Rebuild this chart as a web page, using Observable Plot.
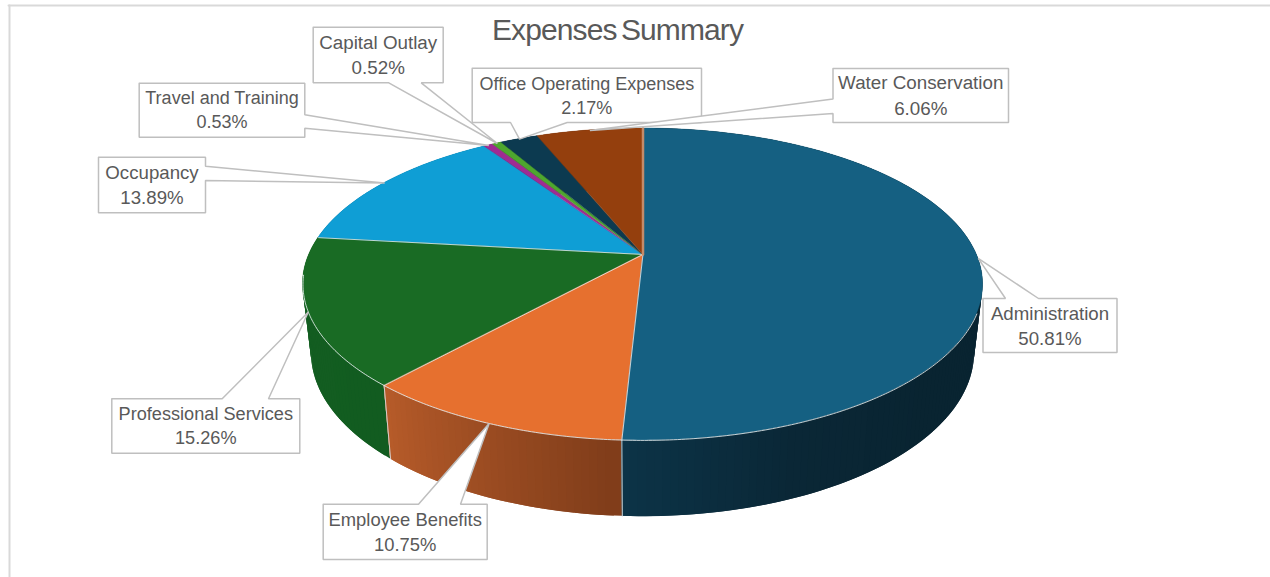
<!DOCTYPE html>
<html>
<head>
<meta charset="utf-8">
<title>Expenses Summary</title>
<script src="https://cdn.jsdelivr.net/npm/d3@7"></script>
<script src="https://cdn.jsdelivr.net/npm/@observablehq/plot@0.6"></script>
<style>
  html, body { margin: 0; padding: 0; background: #fff; }
  svg { display: block; }
  g[font-size="30"] { letter-spacing: -0.9px; word-spacing: -3px; }
</style>
</head>
<body>
<div id="chart"></div>
<script>
// Expense categories, clockwise from twelve o'clock
const categories = ["Administration", "Employee Benefits", "Professional Services", "Occupancy",
  "Travel and Training", "Capital Outlay", "Office Operating Expenses", "Water Conservation"];
const shares = [50.81, 10.75, 15.26, 13.89, 0.53, 0.52, 2.17, 6.06];
const topColors = ["#156082", "#E6702F", "#196B24", "#0F9ED5", "#A02B93", "#4EA72E", "#0C3A50", "#943F0D"];
const labelSizes = [18.67, 18.4, 18.15, 18.67, 18, 18.8, 18, 18.8];

// Wall shading of each slice, first stop at the slice's starting angle
const wallStops = [
  ["#092431", "#092431", "#092431", "#092431", "#092431", "#092431", "#0A2736", "#0C3448"],
  ["#803D1A", "#B85C2A"],
  ["#125C20", "#145F22"],
  ["#0B6F96", "#0B6F96"],
  ["#701E67", "#701E67"],
  ["#367520", "#367520"],
  ["#082837", "#082837"],
  ["#682C09", "#682C09"]
];

// Perspective disc: unit circle mapped onto the screen, plus the lower rim of the wall
const disc = {cx: 642.5, cy: 254, a: 333.7, b: 150.2, k: 0.192};
const wall = {sx: 0.975, sy: 1.05, dy: 67};

const total = d3.sum(shares);
const cumulative = d3.cumsum(shares);
const angle = (s) => (s / total) * 2 * Math.PI;

function rim(theta) {
  const u = Math.sin(theta), v = -Math.cos(theta), d = 1 - disc.k * v;
  return [disc.cx + (disc.a * u) / d, disc.cy + (disc.b * v) / d];
}
function lowerRim(theta) {
  const [x, y] = rim(theta);
  return [disc.cx + (x - disc.cx) * wall.sx, disc.cy + wall.dy + (y - disc.cy) * wall.sy];
}

const slices = categories.map((name, i) => ({
  name, i,
  start: angle(cumulative[i] - shares[i]),
  end: angle(cumulative[i]),
  mid: angle(cumulative[i] - shares[i] / 2),
  fill: topColors[i]
}));

// Top faces: one fan of samples per slice
const faceRows = slices.flatMap((s) => {
  const n = Math.max(2, Math.ceil((s.end - s.start) / 0.01));
  return d3.range(n + 1).map((j) => {
    const [x, y] = rim(s.start + ((s.end - s.start) * j) / n);
    return {slice: s.i, x, y, fill: s.fill};
  });
});

// Walls: short strips that overlap the next one, so no seams show between shades
const wallRows = slices.flatMap((s) => {
  const shade = d3.piecewise(d3.interpolateRgb, wallStops[s.i]);
  const n = Math.max(2, Math.ceil((s.end - s.start) / 0.02));
  const step = (s.end - s.start) / n;
  return d3.range(n).flatMap((j) => {
    const t0 = s.start + step * j;
    const t1 = j < n - 1 ? t0 + step * 2 : t0 + step;
    const color = shade((j + 0.5) / n);
    return [t0, t1].map((t) => {
      const [x1, y1] = rim(t), [x2, y2] = lowerRim(t);
      return {strip: `${s.i}-${String(j).padStart(4, "0")}`, x1, y1, x2, y2, color};
    });
  });
}).reverse();

// Thin highlights along the front rim and between the large slices
const frontRim = d3.range(Math.PI * 0.62, Math.PI * 1.46, 0.01).map((t) => {
  const [x, y] = rim(t);
  return {x, y};
});
const radialEdges = [0, 1, 2].flatMap((i) => {
  const [x, y] = rim(slices[i].end);
  return [{edge: i, x: disc.cx, y: disc.cy}, {edge: i, x, y}];
});
const wallEdges = [0, 1].flatMap((i) => {
  const [x1, y1] = rim(slices[i].end), [x2, y2] = lowerRim(slices[i].end);
  return [{edge: i, x: x1, y: y1}, {edge: i, x: x2, y: y2}];
});
const seam = (() => {
  const [x, y] = rim(0);
  return [{x: disc.cx, y: disc.cy}, {x, y}];
})();

// Callout boxes [left, top, right, bottom] and the side their pointer leaves from
const calloutBoxes = [
  [982.5, 298, 1116.5, 352],
  [322.7, 503.7, 486.7, 559],
  [111.3, 398.3, 299.3, 452.7],
  [98, 156.7, 205, 212.3],
  [138.7, 82.7, 304.3, 136.7],
  [312.7, 26.7, 442.7, 82.3],
  [471.7, 67.7, 701, 122],
  [832.5, 68, 1008, 122]
];
const calloutSides = ["top", "top", "top", "right", "right", "bottom", "bottom", "left"];
const calloutBases = [
  [1005, 1038], [418, 460], [221.7, 268], [165.7, 180],
  [114.3, 127.7], [388.3, 420.7], [510, 566.7], [98.5, 113]
];

const calloutRows = slices.flatMap((s) => {
  const [l, t, r, b] = calloutBoxes[s.i];
  const [p, q] = calloutBases[s.i];
  const tip = rim(s.mid);
  const side = calloutSides[s.i];
  const pts = [[l, t]];
  if (side === "top") pts.push([p, t], tip, [q, t]);
  pts.push([r, t]);
  if (side === "right") pts.push([r, p], tip, [r, q]);
  pts.push([r, b]);
  if (side === "bottom") pts.push([q, b], tip, [p, b]);
  pts.push([l, b]);
  if (side === "left") pts.push([l, q], tip, [l, p]);
  pts.push([l, t]);
  return pts.map(([x, y]) => ({callout: s.i, x, y}));
});

const labelRows = slices.map((s) => {
  const [l, t, r, b] = calloutBoxes[s.i];
  return {
    x: (l + r) / 2,
    y: (t + b) / 2 - 1.5,
    size: labelSizes[s.i],
    text: `${s.name}\n${shares[s.i].toFixed(2)}%`
  };
});

const titleText = ["Expenses Summary"];
const frameEdges = [
  {edge: "top", x: 8, y: 5}, {edge: "top", x: 1270, y: 5},
  {edge: "left", x: 9, y: 5}, {edge: "left", x: 9, y: 577}
];

const chart = Plot.plot({
  width: 1270,
  height: 577,
  margin: 0,
  x: {axis: null, domain: [0, 1270], range: [0, 1270]},
  y: {axis: null, domain: [0, 577], range: [0, 577]},
  color: {type: "identity"},
  style: {background: "#fff", fontFamily: "'Liberation Sans', Arial, sans-serif"},
  marks: [
    Plot.line(frameEdges, {x: "x", y: "y", z: "edge", stroke: "#D9D9D9", strokeWidth: 2}),
    Plot.area(wallRows, {
      x1: "x1", y1: "y1", x2: "x2", y2: "y2", z: "strip",
      fill: "color"
    }),
    Plot.line(wallEdges, {x: "x", y: "y", z: "edge", stroke: "#DCE3E6", strokeWidth: 1, strokeOpacity: 0.85}),
    Plot.area(faceRows, {
      x1: () => disc.cx, y1: () => disc.cy, x2: "x", y2: "y", z: "slice",
      fill: "fill", stroke: "fill", strokeWidth: 0.4
    }),
    Plot.line(frontRim, {x: "x", y: "y", stroke: "#E8EEF0", strokeWidth: 1, strokeOpacity: 0.85}),
    Plot.line(radialEdges, {x: "x", y: "y", z: "edge", stroke: "#E8EEF0", strokeWidth: 1, strokeOpacity: 0.8}),
    Plot.line(seam, {x: "x", y: "y", stroke: "#C58A68", strokeWidth: 2.5}),
    Plot.line(calloutRows, {
      x: "x", y: "y", z: "callout",
      fill: "white", stroke: "#BFBFBF", strokeWidth: 1.5,
      strokeLinejoin: "miter", curve: "linear"
    }),
    Plot.text(labelRows, {
      x: "x", y: "y", text: "text",
      fontSize: "size", lineHeight: 1.34, fill: "#595959", textAnchor: "middle"
    }),
    Plot.text(titleText, {
      x: () => 617, y: () => 29.5, text: (d) => d,
      fontSize: 30, fill: "#595959", textAnchor: "middle"
    })
  ]
});
document.getElementById("chart").append(chart);
</script>
</body>
</html>
